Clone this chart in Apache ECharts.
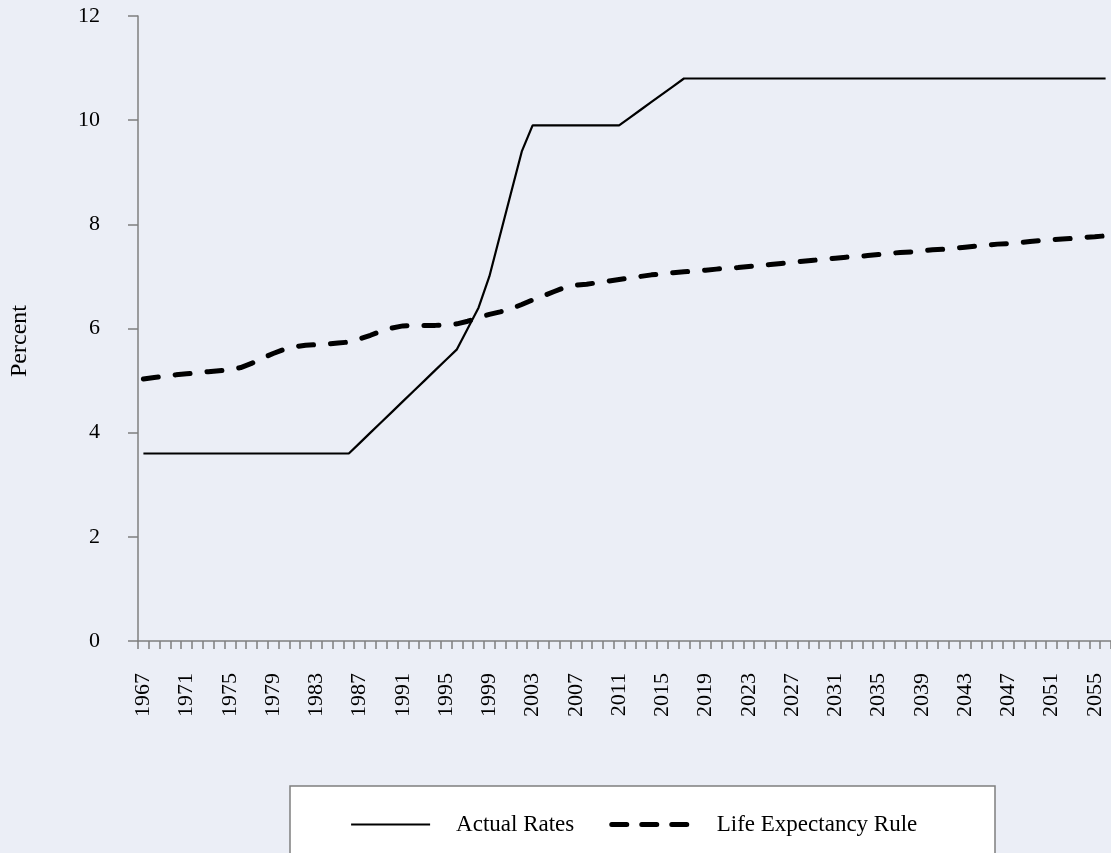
<!DOCTYPE html>
<html>
<head>
<meta charset="utf-8">
<script src="https://cdn.jsdelivr.net/npm/echarts@6/dist/echarts.min.js"></script>
<style>
html,body{margin:0;padding:0;background:#ebeef6;}
#chart{width:1111px;height:853px;}
</style>
</head>
<body>
<div id="chart"></div>
<script>
// Years 1967-2056 (2056 is partly cut off at the right edge of the picture)
const years = [];
for (let y = 1967; y <= 2056; y++) years.push(String(y));

const actualRates = [
  3.6, 3.6, 3.6, 3.6, 3.6, 3.6, 3.6, 3.6, 3.6, 3.6,       // 1967-1976
  3.6, 3.6, 3.6, 3.6, 3.6, 3.6, 3.6, 3.6, 3.6, 3.6,       // 1977-1986
  3.8, 4.0, 4.2, 4.4, 4.6, 4.8, 5.0, 5.2, 5.4, 5.6,       // 1987-1996
  6.0, 6.4, 7.0, 7.8, 8.6, 9.4, 9.9, 9.9, 9.9, 9.9,       // 1997-2006
  9.9, 9.9, 9.9, 9.9, 9.9, 10.05, 10.2, 10.35, 10.5, 10.65, // 2007-2016
  10.8, 10.8, 10.8, 10.8, 10.8, 10.8, 10.8, 10.8, 10.8, 10.8, // 2017-2026
  10.8, 10.8, 10.8, 10.8, 10.8, 10.8, 10.8, 10.8, 10.8, 10.8, // 2027-2036
  10.8, 10.8, 10.8, 10.8, 10.8, 10.8, 10.8, 10.8, 10.8, 10.8, // 2037-2046
  10.8, 10.8, 10.8, 10.8, 10.8, 10.8, 10.8, 10.8, 10.8, 10.8  // 2047-2056
];

const lifeExpectancyRule = [
  5.03, 5.06, 5.08, 5.11, 5.13, 5.15, 5.17, 5.19, 5.21, 5.25, // 1967-1976
  5.33, 5.43, 5.52, 5.60, 5.65, 5.68, 5.69, 5.70, 5.72, 5.74, // 1977-1986
  5.80, 5.87, 5.95, 6.01, 6.05, 6.06, 6.06, 6.06, 6.07, 6.09, // 1987-1996
  6.14, 6.21, 6.27, 6.32, 6.38, 6.46, 6.55, 6.63, 6.71, 6.79, // 1997-2006
  6.83, 6.85, 6.88, 6.91, 6.94, 6.97, 7.00, 7.03, 7.05, 7.07, // 2007-2016
  7.09, 7.10, 7.12, 7.14, 7.16, 7.17, 7.19, 7.21, 7.23, 7.25, // 2017-2026
  7.27, 7.29, 7.31, 7.33, 7.35, 7.37, 7.38, 7.40, 7.42, 7.44, // 2027-2036
  7.46, 7.47, 7.49, 7.51, 7.52, 7.54, 7.56, 7.58, 7.60, 7.62, // 2037-2046
  7.63, 7.65, 7.67, 7.69, 7.70, 7.72, 7.73, 7.75, 7.76, 7.78  // 2047-2056
];

const seriesNames = ['Actual Rates', 'Life Expectancy Rule'];
const yTicks = { min: 0, max: 12, interval: 2 };
const yAxisTitle = 'Percent';

const FONT = '"Liberation Serif", "DejaVu Serif", serif';
const AXIS_COLOR = '#7f7f7f';

const chart = echarts.init(document.getElementById('chart'), null, { renderer: 'canvas' });
chart.setOption({
  backgroundColor: '#ebeef6',
  animation: false,
  textStyle: { fontFamily: FONT, color: '#000' },
  graphic: [{
    type: 'rect',
    z: 0,
    shape: { x: 290, y: 786, width: 705, height: 120 },
    style: { fill: '#ffffff', stroke: AXIS_COLOR, lineWidth: 1.5 }
  }],
  legend: {
    data: [
      { name: seriesNames[0], lineStyle: { width: 2.2, type: 'solid' } },
      { name: seriesNames[1], lineStyle: { width: 5, type: [15, 15], cap: 'round' } }
    ],
    left: 345,
    top: 808,
    itemWidth: 79,
    itemHeight: 24,
    itemGap: 35,
    itemStyle: { opacity: 0 },
    textStyle: { fontFamily: FONT, fontSize: 23, color: '#000', padding: [0, 0, 0, 21] },
    z: 5
  },
  grid: { left: 137, top: 16, width: 978, height: 625 },
  xAxis: {
    type: 'category',
    data: years,
    boundaryGap: true,
    axisLine: { lineStyle: { color: AXIS_COLOR, width: 1.5 } },
    axisTick: { show: true, interval: 0, length: 8, lineStyle: { color: AXIS_COLOR, width: 1.5 } },
    axisLabel: { interval: 3, rotate: 90, margin: 32, fontFamily: FONT, fontSize: 22, color: '#000' },
    splitLine: { show: false }
  },
  yAxis: {
    type: 'value',
    min: yTicks.min,
    max: yTicks.max,
    interval: yTicks.interval,
    name: yAxisTitle,
    nameLocation: 'middle',
    nameRotate: 90,
    nameGap: 106,
    nameTextStyle: { fontFamily: FONT, fontSize: 24, color: '#000', padding: [0, 25, 0, 0] },
    axisLine: { show: true, lineStyle: { color: AXIS_COLOR, width: 1.5 } },
    axisTick: { show: true, length: 10, lineStyle: { color: AXIS_COLOR, width: 1.5 } },
    axisLabel: { margin: 38, fontFamily: FONT, fontSize: 22, color: '#000' },
    splitLine: { show: false }
  },
  series: [
    {
      name: seriesNames[0],
      type: 'line',
      data: actualRates,
      symbol: 'none',
      lineStyle: { color: '#000', width: 2.2, type: 'solid' },
      itemStyle: { color: '#000' }
    },
    {
      name: seriesNames[1],
      type: 'line',
      data: lifeExpectancyRule,
      symbol: 'none',
      lineStyle: { color: '#000', width: 5, type: [15, 17], cap: 'round' },
      itemStyle: { color: '#000' }
    }
  ]
});
</script>
</body>
</html>
